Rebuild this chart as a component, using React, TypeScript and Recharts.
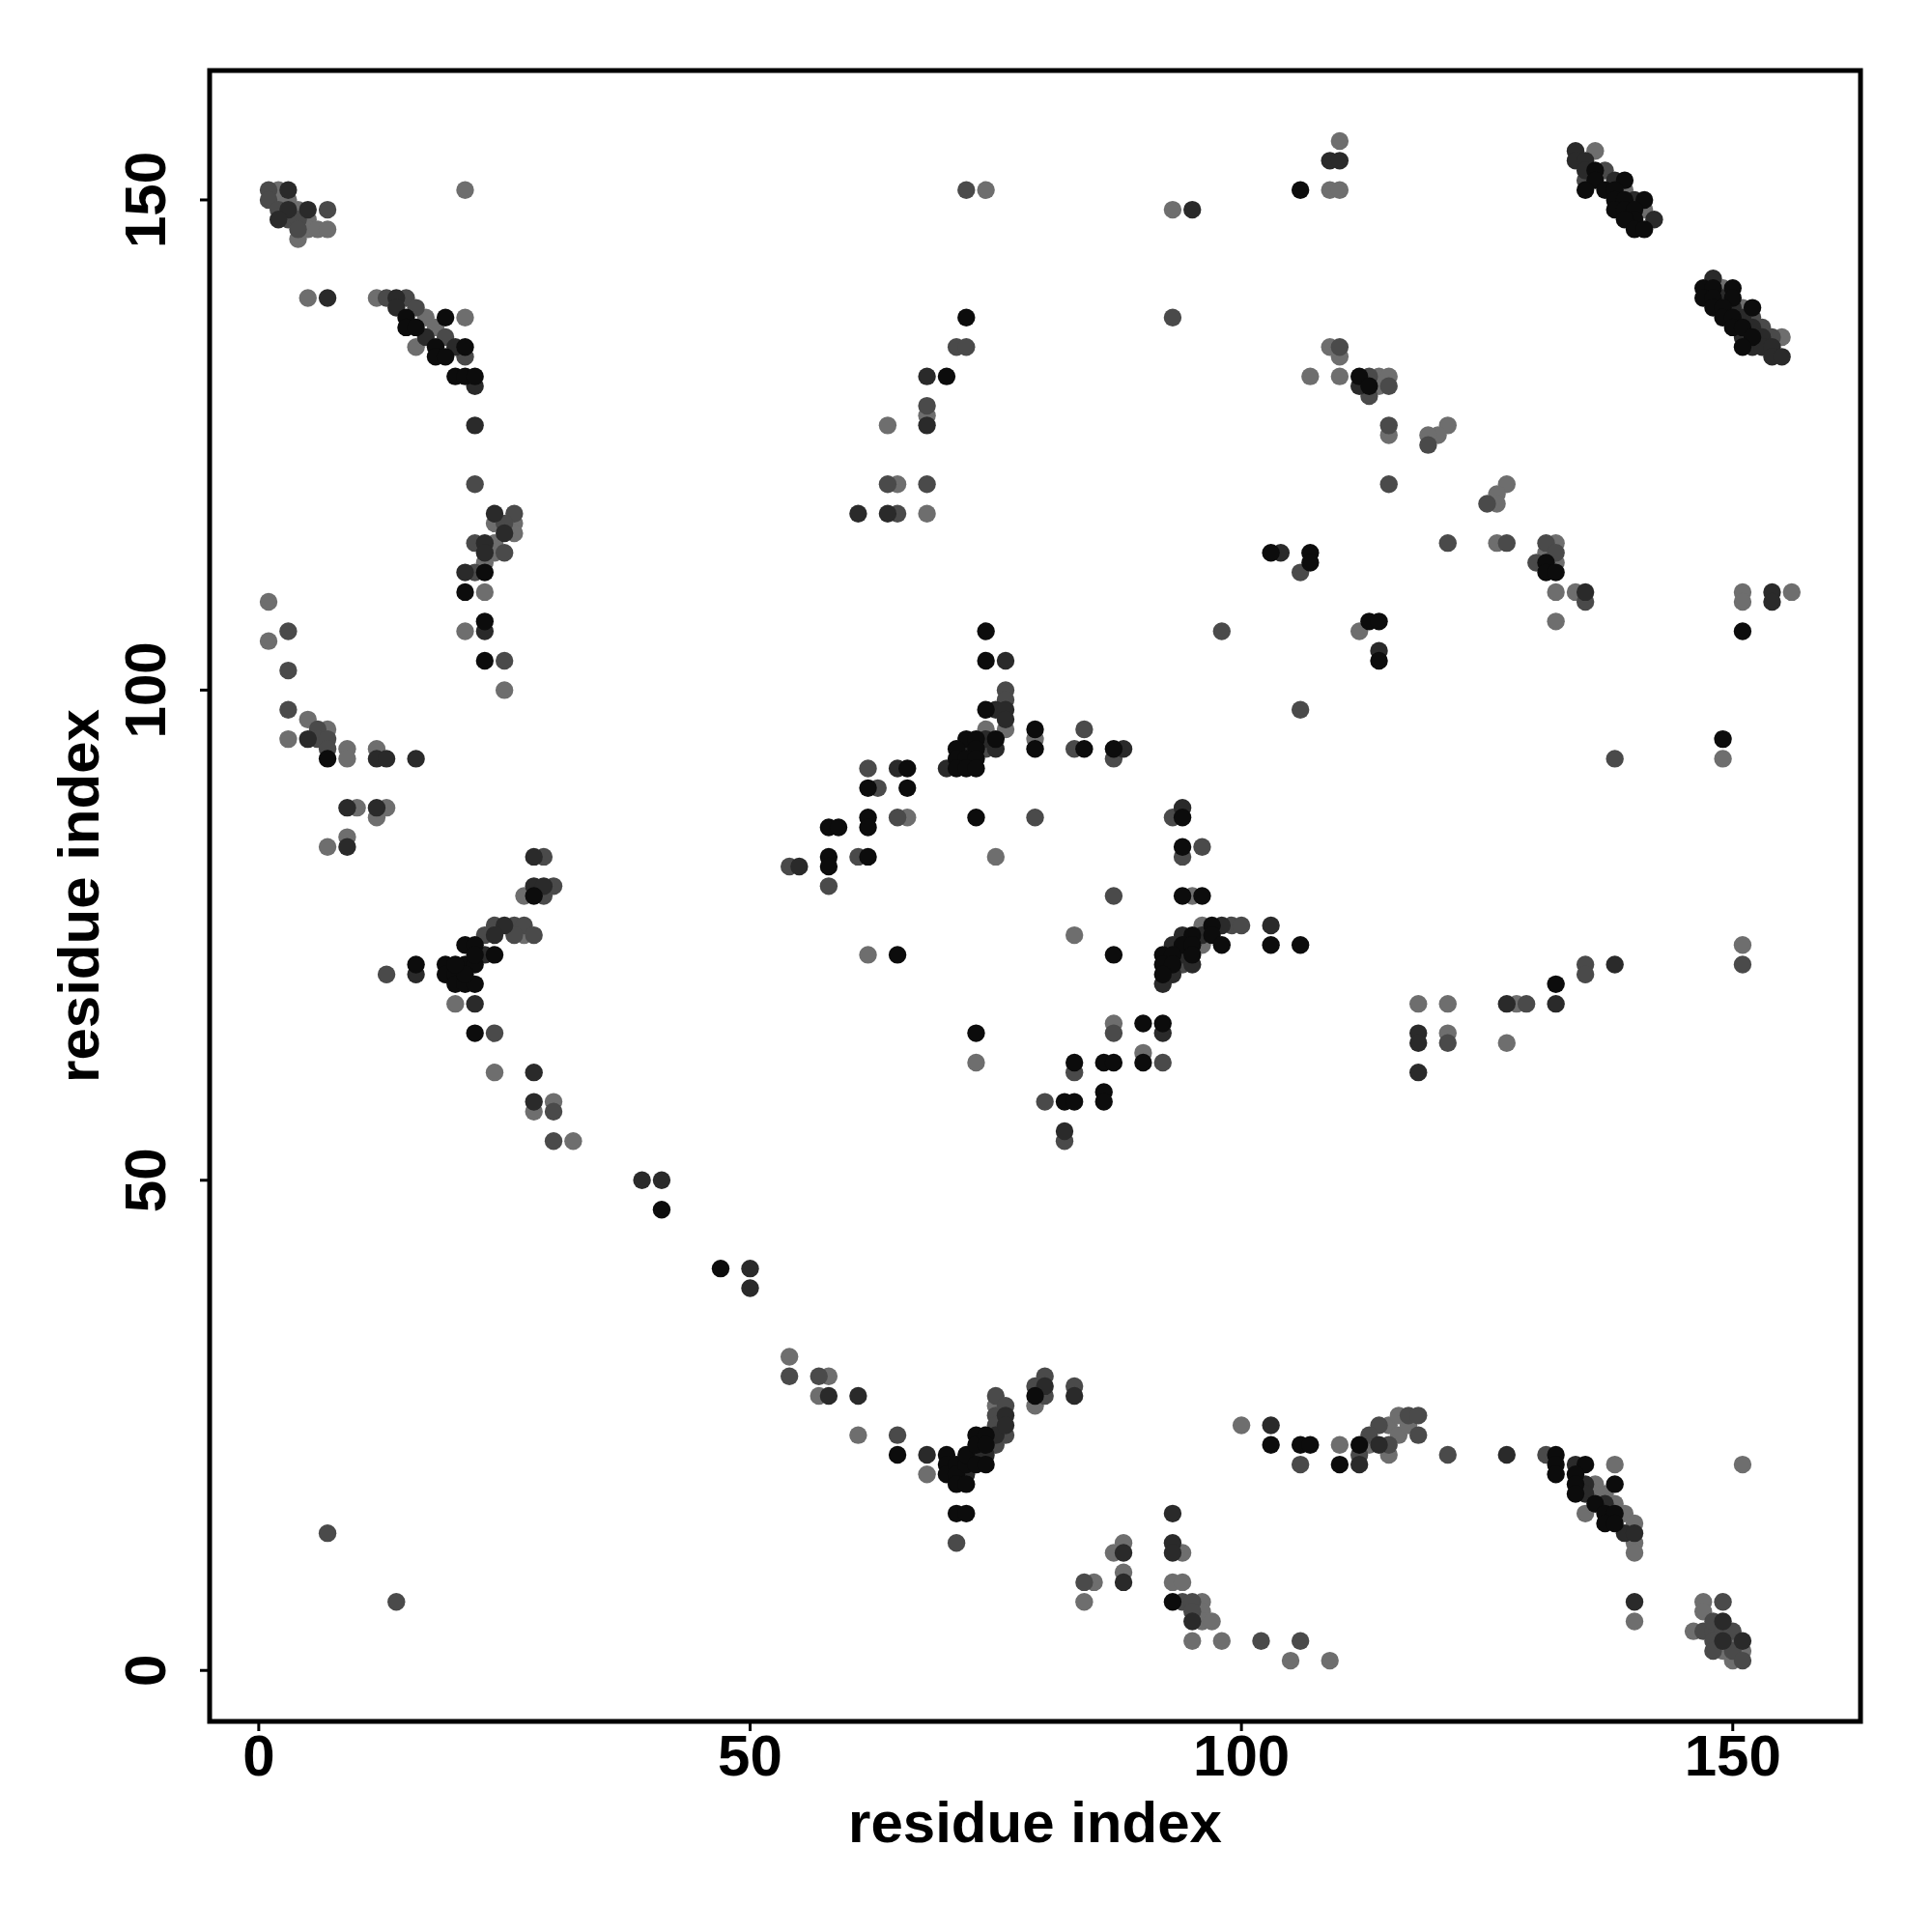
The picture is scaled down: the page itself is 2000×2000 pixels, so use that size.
import { ScatterChart, Scatter, XAxis, YAxis, ReferenceArea } from "recharts";

// contact pairs [i, j], grouped by shade
const blackContacts: [number, number][] = [
  [15,138],[19,138],[15,137],[16,137],[18,135],[21,135],[18,134],[19,134],[20,132],[21,132],[22,132],[23,112],[21,110],[23,107],
  [23,103],[7,93],[28,79],[21,74],[22,74],[24,73],[21,72],[22,72],[19,72],[16,72],[19,71],[20,71],[20,70],[21,70],[22,70],[21,71],[20,72],[22,73],[22,65],
  [41,47],[47,41],
  [106,151],[72,138],[70,132],[103,114],[107,114],[107,113],[74,106],
  [136,153],[136,152],[135,151],[139,152],[137,151],[138,151],[141,150],[138,150],[139,150],[138,149],[139,149],[140,149],[140,148],[139,148],[140,147],[141,147],
  [147,141],[148,141],[150,141],[147,140],[148,140],[150,140],[148,139],[149,139],[152,139],[149,138],[150,138],[150,137],[151,137],[152,136],[151,135],
  [112,132],[113,131],[131,113],[131,112],[132,112],[151,106],[113,107],[114,107],
  [74,103],[74,98],[75,95],[72,95],[73,95],[71,94],[73,94],[71,93],[72,93],[73,93],[71,92],[72,92],[73,92],[79,96],[79,94],[84,94],[87,94],[66,92],[62,90],[66,90],
  [62,87],[62,86],[58,86],[59,86],[73,87],[58,83],[58,82],[62,83],[94,87],[94,84],[94,79],[96,79],[65,73],[87,73],[97,76],[95,75],[97,75],[98,74],[103,74],[106,74],
  [94,74],[95,74],[92,73],[93,73],[95,73],[92,72],[93,72],[92,71],[73,65],[90,66],[92,66],[90,62],[83,62],[86,62],[87,62],[86,59],[86,58],[82,58],[83,58],
  [114,103],[149,95],[132,70],
  [65,22],[70,22],[70,21],[70,20],[71,21],[71,20],[71,19],[72,19],[72,21],[72,22],[73,24],[73,23],[73,21],[74,24],[74,21],[74,23],[71,16],[72,16],[79,28],[93,7],
  [103,23],[106,23],[107,23],
  [110,21],[112,23],[132,22],[132,21],[132,20],[135,21],[134,20],[134,19],[134,18],[138,19],[136,17],[137,16],[138,16],[137,15],[138,15],
];

const darkContacts: [number, number][] = [
  [3,151],[3,149],[5,149],[2,148],[7,140],[14,140],[14,139],[17,136],[20,135],[22,131],[22,127],[24,118],[25,116],[23,115],[23,114],[21,112],
  [23,106],[5,95],[12,93],[13,93],[16,93],[9,88],[12,88],[9,84],[28,83],[28,80],[29,80],[25,76],[24,75],[23,73],[16,71],[22,68],[28,61],[28,58],[39,50],[41,50],
  [50,41],[50,39],
  [95,149],[68,132],[68,127],[61,118],[64,118],[104,114],
  [109,154],[110,154],[134,155],[134,154],[135,154],[135,153],[138,152],[140,150],[142,148],
  [148,142],[149,140],[150,139],[151,138],[152,137],[151,136],[153,136],[152,135],[153,135],[154,135],[154,134],[155,134],
  [112,131],[135,110],[154,110],[154,109],
  [76,103],[75,98],[76,98],[76,97],[74,95],[72,94],[75,94],[70,92],[88,94],[65,92],[55,82],[94,88],[98,76],[103,76],[94,75],[96,75],[93,74],[94,73],[95,72],[93,71],
  [92,70],[92,65],[82,55],
  [114,104],[138,72],[132,68],[127,68],[118,65],[118,64],[118,61],
  [58,28],[61,28],[68,22],[72,20],[73,22],[74,22],[75,24],[76,26],[76,25],[80,29],[83,28],[93,16],[88,12],[93,13],[93,12],[88,9],[95,5],[103,25],
  [112,21],[114,23],[127,22],[134,21],[135,19],[135,18],[137,17],[139,14],[140,14],[140,7],[149,5],[149,3],[151,3],
];

const midContacts: [number, number][] = [
  [1,151],[1,150],[2,149],[3,148],[4,148],[4,147],[7,149],[13,140],[15,140],[16,139],[19,136],[21,134],[22,121],[26,118],[25,117],[22,115],[25,114],[22,112],[3,106],
  [25,103],[3,102],[3,98],[6,96],[6,95],[7,95],[7,94],[29,83],[30,80],[29,79],[24,76],[26,76],[27,76],[28,75],[26,75],[23,75],[13,71],[24,65],[30,57],[30,54],
  [7,14],[14,7],
  [72,151],[93,138],[71,135],[72,135],[68,129],[64,121],[68,121],[65,118],[106,112],[98,106],
  [137,153],[135,152],[152,138],[153,137],[154,136],
  [110,135],[113,132],[115,131],[113,130],[115,127],[119,125],[115,121],[125,119],[121,115],[127,115],[131,115],[132,114],[130,113],[135,109],
  [76,100],[76,99],[74,94],[84,96],[83,94],[87,93],[62,92],[63,90],[65,87],[79,87],[61,83],[54,82],[58,80],[93,87],[94,83],[96,84],[87,79],[99,76],[100,76],[94,72],
  [87,65],[92,62],[83,61],[80,58],[82,54],[106,98],
  [138,93],[151,72],[135,72],[135,71],[129,68],[121,64],
  [54,30],[57,30],[65,24],[75,28],[75,26],[75,25],[75,23],[76,27],[76,24],[71,13],[79,29],[80,30],[80,28],[83,29],[84,9],[94,7],[95,7],[95,6],[102,3],[106,3],[106,21],
  [112,22],[114,25],[115,23],[117,26],[118,26],[118,24],[113,24],[121,22],[131,22],[149,7],[147,4],[148,4],[148,3],[148,2],[150,2],[151,1],[148,5],[149,4],[150,4],
];

const grayContacts: [number, number][] = [
  [2,151],[2,150],[3,150],[4,149],[5,148],[5,147],[6,147],[7,147],[4,146],[21,151],[5,140],[12,140],[17,138],[21,138],[18,137],[16,135],[26,117],[26,116],[24,117],
  [24,115],[24,114],[23,113],[23,110],[1,109],[21,106],
  [1,105],[25,100],[5,97],[7,96],[3,95],[9,94],[9,93],[12,94],[10,88],[13,88],[12,87],[9,85],[7,84],[27,79],[27,75],[20,68],[24,61],[30,58],[28,57],[32,54],
  [74,151],[93,149],[68,128],[64,127],[65,121],[68,118],
  [110,156],[109,151],[110,151],[136,155],[139,151],[141,149],[149,141],[151,139],[155,136],
  [109,135],[110,134],[107,132],[110,132],[114,132],[115,132],[114,131],[115,126],[121,127],[120,126],[119,126],[127,121],[126,120],[126,119],[126,115],[132,115],
  [131,114],[132,113],[132,110],[134,110],[132,107],[151,110],[151,109],[156,110],[112,106],
  [76,96],[74,96],[79,95],[66,87],[75,83],[95,79],[83,75],[62,73],[96,76],[96,74],[73,62],[87,66],[90,63],
  [149,93],[151,74],[128,68],[118,68],[121,68],[121,65],[127,64],
  [54,32],[58,30],[57,28],[61,24],[68,20],[75,27],[79,27],[88,13],[87,12],[94,12],[85,9],[84,7],[88,10],[93,9],[94,9],[96,7],[96,6],[96,5],[97,5],[95,3],[98,3],
  [105,1],[100,25],
  [110,23],[113,23],[115,25],[115,22],[116,26],[116,24],[117,25],[136,19],[138,21],[136,18],[137,18],[135,16],[138,17],[139,16],[140,15],[140,13],[140,12],[140,5],
  [151,21],[109,1],[147,7],[147,6],[146,4],[150,3],[149,2],[151,2],[150,1],
];

const axisTicks = [0, 50, 100, 150];

const toPoints = (pairs: [number, number][]) => pairs.map(([x, y]) => ({ x, y }));

const FONT = "'Liberation Sans', Arial, Helvetica, sans-serif";

const dot = (color: string) => (props: any) => (
  <circle cx={props.cx} cy={props.cy} r={9.2} fill={color} />
);

const XTick = ({ x, y, payload }: any) => (
  <text x={x} y={y} textAnchor="middle" fontSize={60} fontWeight="bold" fontFamily={FONT} fill="#000">
    {payload.value}
  </text>
);

const YTick = ({ x, y, payload }: any) => (
  <text
    transform={`translate(${x},${y}) rotate(-90)`}
    textAnchor="middle"
    fontSize={60}
    fontWeight="bold"
    fontFamily={FONT}
    fill="#000"
  >
    {payload.value}
  </text>
);

const series = [
  { name: "gray", color: "#6e6e6e", data: toPoints(grayContacts) },
  { name: "mid", color: "#4a4a4a", data: toPoints(midContacts) },
  { name: "dark", color: "#2a2a2a", data: toPoints(darkContacts) },
  { name: "black", color: "#0c0c0c", data: toPoints(blackContacts) },
];

export default function App() {
  return (
    <div style={{ position: "absolute", left: 0, top: 0, width: 2000, height: 2000, background: "#fff" }}>
      <ScatterChart width={2000} height={2000} margin={{ top: 73, right: 74, bottom: 0, left: 0 }}>
        <XAxis
          type="number"
          dataKey="x"
          domain={[-5, 163]}
          ticks={axisTicks}
          allowDataOverflow
          height={218}
          axisLine={false}
          tickLine={{ stroke: "#000", strokeWidth: 3 }}
          tickSize={10}
          tickMargin={46}
          tick={<XTick />}
          label={{
            content: ({ viewBox }: any) => (
              <text
                x={viewBox.x + viewBox.width / 2}
                y={viewBox.y + 125}
                textAnchor="middle"
                fontSize={60}
                fontWeight="bold"
                fontFamily={FONT}
                fill="#000"
              >
                residue index
              </text>
            ),
          }}
        />
        <YAxis
          type="number"
          dataKey="y"
          domain={[-5.2, 163.2]}
          ticks={axisTicks}
          allowDataOverflow
          width={217}
          axisLine={false}
          tickLine={{ stroke: "#000", strokeWidth: 3 }}
          tickSize={10}
          tickMargin={36}
          tick={<YTick />}
          label={{
            content: ({ viewBox }: any) => (
              <text
                transform={`translate(${viewBox.x + viewBox.width - 115},${viewBox.y + viewBox.height / 2}) rotate(-90)`}
                textAnchor="middle"
                fontSize={60}
                fontWeight="bold"
                fontFamily={FONT}
                fill="#000"
              >
                residue index
              </text>
            ),
          }}
        />
        {series.map((s) => (
          <Scatter
            key={s.name}
            name={s.name}
            data={s.data}
            fill={s.color}
            shape={dot(s.color)}
            isAnimationActive={false}
          />
        ))}
        <ReferenceArea
          x1={-5}
          x2={163}
          y1={-5.2}
          y2={163.2}
          fill="none"
          stroke="#000"
          strokeWidth={5}
          ifOverflow="visible"
        />
      </ScatterChart>
    </div>
  );
}
